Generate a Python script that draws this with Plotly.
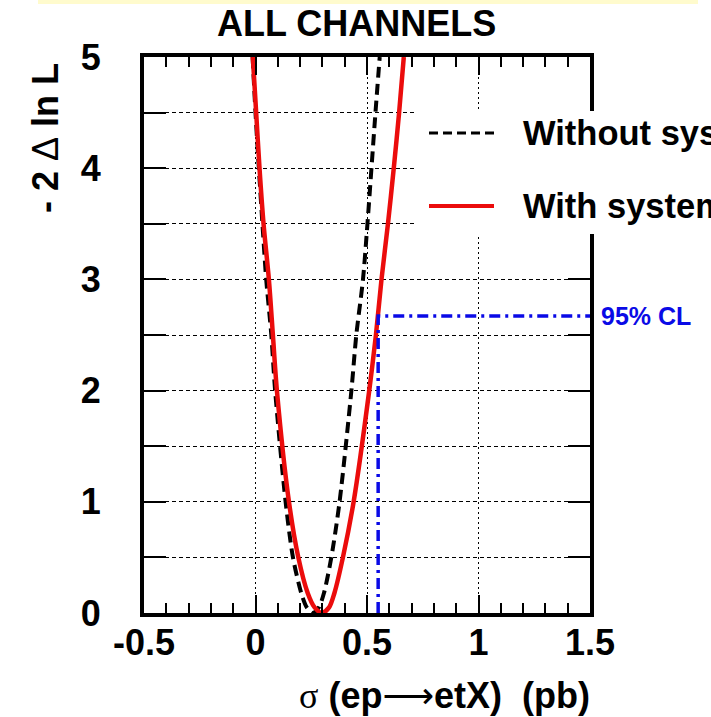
import plotly.graph_objects as go

# ---- data ----
red_x = [-0.012, 0.003, 0.018, 0.036, 0.060, 0.078, 0.096, 0.150, 0.192, 0.234, 0.265, 0.298,
         0.330, 0.354, 0.392, 0.440, 0.510, 0.540, 0.565, 0.594, 0.620, 0.644, 0.665]
red_y = [5.0, 4.5, 4.0, 3.5, 3.0, 2.5, 2.0, 1.0, 0.5, 0.18, 0.05, 0.0,
         0.05, 0.18, 0.5, 1.0, 2.0, 2.5, 3.0, 3.5, 4.0, 4.5, 5.0]

black_x = [-0.013, 0.000, 0.015, 0.033, 0.048, 0.071, 0.088, 0.135, 0.168, 0.205, 0.230, 0.257,
           0.284, 0.307, 0.340, 0.377, 0.430, 0.452, 0.482, 0.502, 0.520, 0.538, 0.557]
black_y = [5.0, 4.5, 4.0, 3.44, 3.0, 2.5, 2.0, 1.0, 0.5, 0.18, 0.05, 0.0,
           0.05, 0.18, 0.5, 1.0, 2.0, 2.5, 3.0, 3.5, 4.0, 4.5, 5.0]

cl_limit = 0.55
cl_level = 2.67
x_max = 1.5

x_ticks = [-0.5, 0, 0.5, 1, 1.5]
x_tick_labels = ["-0.5", "0", "0.5", "1", "1.5"]
y_ticks = [0, 1, 2, 3, 4, 5]
y_tick_labels = ["0", "1", "2", "3", "4", "5"]

FONT = "Liberation Sans, Arial, sans-serif"
RED = "rgb(235,12,12)"
BLUE = "rgb(10,10,230)"

fig = go.Figure()
fig.add_trace(go.Scatter(x=black_x, y=black_y, mode="lines",
                         line=dict(color="black", width=4, dash="11px,6px", shape="spline",
                                   smoothing=0.8),
                         showlegend=False))
fig.add_trace(go.Scatter(x=red_x, y=red_y, mode="lines",
                         line=dict(color=RED, width=4.5, shape="spline", smoothing=0.8),
                         showlegend=False))
fig.add_trace(go.Scatter(x=[cl_limit, cl_limit, x_max], y=[0, cl_level, cl_level], mode="lines",
                         line=dict(color=BLUE, width=3.5, dash="11px,5px,3px,5px"),
                         showlegend=False))

L, R, T, B = 144, 121, 57, 104
W, H = 711, 717
pw, ph = W - L - R, H - T - B


def px(x):
    return (x - L) / pw


def py(y):
    return (H - B - y) / ph


fig.update_layout(
    width=W, height=H,
    margin=dict(l=L, r=R, t=T, b=B),
    paper_bgcolor="white", plot_bgcolor="white",
    font=dict(family=FONT, color="black"),
    xaxis=dict(range=[-0.5, 1.5], tickvals=x_ticks, ticktext=x_tick_labels,
               ticks="inside", ticklen=18, tickwidth=2, tickcolor="black",
               showline=True, linewidth=4, linecolor="black", mirror="allticks",
               showgrid=True, gridcolor="black", gridwidth=1, griddash="2px,3px",
               zeroline=False,
               tickfont=dict(size=36, family=FONT, weight="bold"),
               ticklabelstandoff=-5,
               minor=dict(dtick=0.1, tick0=-0.5, ticks="inside", ticklen=10, tickwidth=2,
                          tickcolor="black", showgrid=False)),
    yaxis=dict(range=[0, 5], tickvals=y_ticks, ticktext=y_tick_labels,
               ticks="inside", ticklen=22, tickwidth=2, tickcolor="black",
               showline=True, linewidth=4, linecolor="black", mirror="allticks",
               showgrid=True, gridcolor="black", gridwidth=1, griddash="4px,3px",
               zeroline=False,
               tickfont=dict(size=36, family=FONT, weight="bold"),
               ticklabelstandoff=32,
               minor=dict(dtick=0.5, tick0=0, ticks="inside", ticklen=22, tickwidth=2,
                          tickcolor="black", showgrid=True, gridcolor="black",
                          gridwidth=1, griddash="4px,3px")),
)

shapes = [
    # pale yellow band at the top
    dict(type="rect", xref="paper", yref="paper", x0=px(38), x1=px(698), y0=py(4), y1=py(-2),
         fillcolor="rgb(255,251,205)", line=dict(width=0), layer="below"),
    # legend box
    dict(type="rect", xref="paper", yref="paper", x0=px(414), x1=px(760), y0=py(234), y1=py(111),
         fillcolor="white", line=dict(width=0), layer="above"),
    dict(type="line", xref="paper", yref="paper", x0=px(429), x1=px(494), y0=py(133), y1=py(133),
         line=dict(color="black", width=3, dash="9px,5px"), layer="above"),
    dict(type="line", xref="paper", yref="paper", x0=px(429), x1=px(494), y0=py(206), y1=py(206),
         line=dict(color=RED, width=4), layer="above"),
]
fig.update_layout(shapes=shapes)

ann = [
    dict(text="<b>ALL CHANNELS</b>", x=px(356), y=py(24), xanchor="center", font=dict(size=36)),
    dict(text="<b>- 2 </b>Δ<b> ln L</b>", x=px(45), y=py(138), xanchor="center",
         textangle=-90, font=dict(size=36)),
    dict(text="<span style=\"font-family:'Liberation Serif'\">σ</span><b> (ep</b>"
              "<span style=\"font-family:'DejaVu Sans'\">⟶</span><b>etX)\u00a0\u00a0(pb)</b>",
         x=px(592), y=py(695), xanchor="right", font=dict(size=36)),
    dict(text="<b>Without systematics</b>", x=px(521), y=py(133), xanchor="left", font=dict(size=34.5)),
    dict(text="<b>With systematics</b>", x=px(521), y=py(206), xanchor="left", font=dict(size=34.5)),
]
annotations = []
for a in ann:
    d = dict(xref="paper", yref="paper", showarrow=False, yanchor="middle")
    d.update(a)
    annotations.append(d)
annotations.append(dict(text="<b>95% CL</b>", xref="paper", yref="y", x=px(599), y=cl_level,
                        xanchor="left", yanchor="middle", showarrow=False,
                        font=dict(size=25, color=BLUE)))
fig.update_layout(annotations=annotations)

fig.write_html("out.html")
